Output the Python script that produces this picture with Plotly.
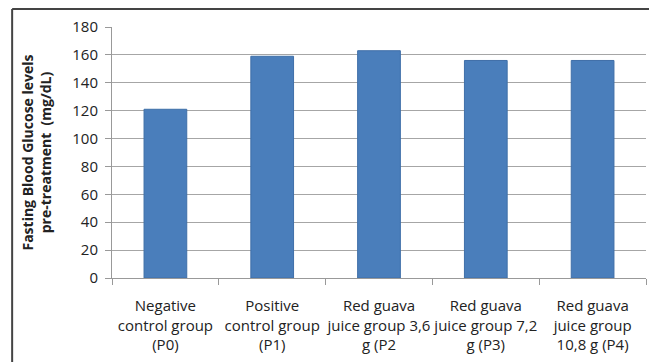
import plotly.graph_objects as go

categories = [
    "Negative<br>control group<br>(P0)",
    "Positive<br>control group<br>(P1)",
    "Red guava<br>juice group 3,6<br>g (P2",
    "Red guava<br>juice group 7,2<br>g (P3)",
    "Red guava<br>juice group<br>10,8 g (P4)",
]
values = [121, 159, 163, 156, 156]
y_ticks = [0, 20, 40, 60, 80, 100, 120, 140, 160, 180]

FONT = "Open Sans, Lato, sans-serif"

fig = go.Figure(
    go.Bar(
        x=categories,
        y=values,
        marker=dict(color="#4A7EBB", line=dict(color="#3F6FA8", width=1)),
        width=0.4,
    )
)

fig.update_layout(
    width=649,
    height=362,
    margin=dict(l=112, r=3, t=27, b=84),
    paper_bgcolor="white",
    plot_bgcolor="white",
    showlegend=False,
    font=dict(family=FONT, color="#222", size=15),
    shapes=[
        dict(type="line", xref="paper", yref="paper", x0=-0.187, x1=-0.187,
             y0=-0.4, y1=1.0717, line=dict(color="#444", width=2)),
        dict(type="line", xref="paper", yref="paper", x0=-0.187, x1=1.1,
             y0=1.0717, y1=1.0717, line=dict(color="#444", width=2)),
    ],
)

fig.update_xaxes(
    automargin=False,
    tickangle=0,
    showgrid=False,
    showline=True,
    linecolor="#999",
    linewidth=1,
    ticks="outside",
    tickson="boundaries",
    ticklen=6,
    tickcolor="#999",
    ticklabelstandoff=14,
    tickfont=dict(family=FONT, size=15, color="#222"),
)

fig.update_yaxes(
    automargin=False,
    range=[0, 180],
    tickvals=y_ticks,
    showgrid=True,
    gridcolor="#A6A6A6",
    gridwidth=1,
    showline=True,
    linecolor="#999",
    ticks="outside",
    ticklen=6,
    tickcolor="#999",
    ticklabelstandoff=4,
    tickfont=dict(family=FONT, size=15, color="#222"),
    title=dict(
        text="<b>Fasting Blood Glucose levels<br>pre-treatment  (mg/dL)</b>",
        font=dict(family=FONT, size=14, color="#222"),
        standoff=17,
    ),
    zeroline=False,
)

fig.write_html(
    "out.html",
    config={"displayModeBar": False},
    post_script="document.body.style.margin='0';document.body.style.overflow='hidden';",
)
